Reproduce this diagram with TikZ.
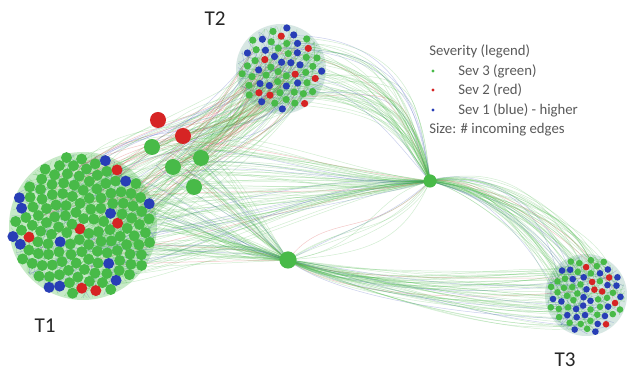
\documentclass[tikz,border=0pt]{standalone}
\usepackage{fontspec}
\setmainfont{Carlito}
\usetikzlibrary{positioning, calc}
\definecolor{sevGreen}{RGB}{72,186,72}
\definecolor{sevRed}{RGB}{214,36,36}
\definecolor{sevBlue}{RGB}{40,62,182}
\definecolor{legGray}{RGB}{90,90,90}

\begin{document}
\begin{tikzpicture}[x=0.025cm, y=-0.025cm,
    edg/.style={line width=0.35pt, opacity=0.25},
    hub/.style={circle, fill=sevGreen, inner sep=0pt, minimum size=#1},
    big/.style={circle, inner sep=0pt, minimum size=0.4cm},
    bul/.style={circle, inner sep=0pt, minimum size=0.08cm},
    lab/.style={font=\fontsize{15}{15}\selectfont, text=black!85},
    leg/.style={font=\fontsize{10.5}{12}\selectfont, text=legGray, anchor=west, inner sep=0pt}]
  \useasboundingbox[fill=white] (0,0) rectangle (627,372);
  \coordinate (t1) at (83,226);
  \coordinate (t2) at (281,69);
  \coordinate (t3) at (586,295);
  \coordinate (p1) at (430,181);
  \coordinate (p2) at (288,260);
  \coordinate (bg) at (180,160);
  \pgfmathsetseed{42}
  % cluster haze
  \fill[sevGreen, opacity=0.3] (t1) circle[radius=74];
  \fill[sevGreen!60!sevBlue, opacity=0.2] (t2) circle[radius=45];
  \fill[sevGreen!60!sevBlue, opacity=0.2] (t3) circle[radius=41];
  \foreach \A/\ar/\n in {t1/72/70, t2/43/45, t3/39/45}{
    \foreach \i in {1,...,\n}{
      \pgfmathsetmacro\pa{360*rnd}
      \pgfmathsetmacro\qa{\pa+90+180*rnd}
      \pgfmathtruncatemacro\m{mod(\i,3)}
      \ifcase\m \def\ec{sevBlue}\else\def\ec{sevGreen}\fi
      \draw[edg, draw=\ec] ($(\A)+(\pa:\ar)$) to[bend left=25] ($(\A)+(\qa:\ar)$);
    }
  }
  % bundles between clusters and bridges
  \foreach \A/\ar/\B/\br/\ox/\oy/\ix/\iy/\s/\n/\red in {
      t1/60/t2/36/55/-65/-35/70/15/100/5,
      bg/35/t2/36/40/-35/-35/55/12/30/5,
      t2/36/p1/0/100/0/-25/-70/20/55/30,
      p1/0/t3/34/60/0/-25/-65/20/55/30,
      t1/60/p1/0/110/-25/-85/10/20/40/30,
      bg/30/p1/0/80/-10/-80/5/15/25/30,
      t1/60/p2/0/80/5/-60/-15/20/60/30,
      bg/28/p2/0/40/25/-40/-40/12/25/30,
      p2/0/t3/34/70/25/-90/5/18/55/30,
      p1/0/p2/0/-40/40/60/-30/25/8/30}{
    \foreach \i in {1,...,\n}{
      \pgfmathsetmacro\pa{360*rnd}
      \pgfmathsetmacro\pr{\ar*sqrt(rnd)}
      \pgfmathsetmacro\qa{360*rnd}
      \pgfmathsetmacro\qr{\br*sqrt(rnd)}
      \pgfmathsetmacro\ux{\ox+\s*rand}
      \pgfmathsetmacro\uy{\oy+\s*rand}
      \pgfmathsetmacro\vx{\ix+\s*rand}
      \pgfmathsetmacro\vy{\iy+\s*rand}
      \pgfmathtruncatemacro\m{mod(\i,9)}
      \pgfmathtruncatemacro\mr{mod(\i,\red)}
      \def\ec{sevGreen}
      \ifnum\m=4 \def\ec{sevBlue}\fi
      \ifnum\mr=2 \def\ec{sevRed}\fi
      \draw[edg, draw=\ec] ($(\A)+(\pa:\pr)$) .. controls ($(\A)+(\pa:\pr)+(\ux,\uy)$) and ($(\B)+(\qa:\qr)+(\vx,\vy)$) .. ($(\B)+(\qa:\qr)$);
    }
  }
  % cluster members
  \foreach \A/\ar/\n/\d/\pb/\pr/\edge in {t1/71/140/5.5/0.33/0.05/110, t2/42/58/3.6/0.42/0.05/0, t3/38/66/3.3/0.36/0.11/0}{
    \foreach \k in {1,...,\n}{
      \pgfmathsetmacro\rr{\ar*sqrt((\k-0.5)/\n)}
      \pgfmathsetmacro\aa{360*(\k*0.381966-floor(\k*0.381966))}
      \pgfmathsetmacro\u{rnd}
      \pgfmathtruncatemacro\c{(\k>\edge && \u<\pb) || \u<0.03 ? 1 : (\u>1-\pr ? 2 : 0)}
      \ifcase\c \def\nc{sevGreen}\or\def\nc{sevBlue}\else\def\nc{sevRed}\fi
      \fill[\nc] ($(\A)+(\aa:\rr)$) circle[radius=\d];
    }
  }
  \node[hub=0.33cm] (h1) at (p1) {};
  \node[hub=0.43cm] (h2) at (p2) {};
  \node[big, fill=sevRed] (r1) at (158,120) {};
  \node[big, fill=sevRed] (r2) at (183,136) {};
  \node[big, fill=sevGreen] (g1) at (152,147) {};
  \node[big, fill=sevGreen] (g2) at (201,158) {};
  \node[big, fill=sevGreen] (g3) at (173,167) {};
  \node[big, fill=sevGreen] (g4) at (194,187) {};
  \node[lab] (n1) at (45,326) {T1};
  \node[lab] (n2) at (215,19) {T2};
  \node[lab] (n3) at (565,360) {T3};
  \node[leg] (lt) at (429,51) {Severity (legend)};
  \node[bul, fill=sevGreen] (d3) at (433,71) {};
  \node[leg] (s3) at (458,71) {Sev 3 (green)};
  \node[bul, fill=sevRed] (d2) at (433,90) {};
  \node[leg] (s2) at (458,90) {Sev 2 (red)};
  \node[bul, fill=sevBlue] (d1) at (433,110) {};
  \node[leg] (s1) at (458,110) {Sev 1 (blue) - higher};
  \node[leg] (sz) at (429,130) {Size: \# incoming edges};
\end{tikzpicture}
\end{document}
